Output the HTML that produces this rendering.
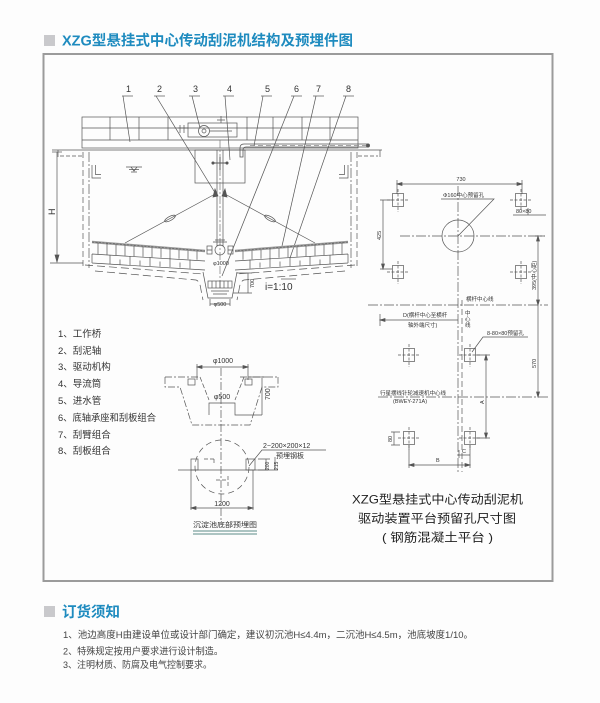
<!DOCTYPE html>
<html><head><meta charset="utf-8">
<style>
html,body{margin:0;padding:0;background:#fff;}
svg{display:block;}
text{font-family:"Liberation Sans","Noto Sans CJK SC",sans-serif;}
</style></head>
<body>
<svg width="600" height="703" viewBox="0 0 600 703" xmlns="http://www.w3.org/2000/svg">
<rect width="600" height="703" fill="#fdfdfd"/>

<!-- Title -->
<rect x="44" y="35" width="11" height="11" fill="#c9c9cc"/>
<text x="62" y="45.5" font-size="14.5" font-weight="bold" fill="#1e8bbf" textLength="291" lengthAdjust="spacingAndGlyphs">XZG型悬挂式中心传动刮泥机结构及预埋件图</text>

<!-- Frame -->
<rect x="43.5" y="54" width="509" height="527" fill="none" stroke="#9b9b9b" stroke-width="2"/>

<g stroke="#555" stroke-width="0.7" fill="none">
<!-- ===== Main drawing ===== -->
<!-- leader labels -->
<g stroke="#555">
<line x1="122" y1="96" x2="133" y2="96"/><line x1="123" y1="96" x2="130" y2="142"/>
<line x1="154" y1="96" x2="165" y2="96"/><line x1="156" y1="96" x2="217" y2="196"/>
<line x1="189" y1="96" x2="200" y2="96"/><line x1="192" y1="96" x2="200" y2="128"/>
<line x1="223" y1="96" x2="234" y2="96"/><line x1="225" y1="96" x2="230" y2="160"/>
<line x1="261" y1="96" x2="272" y2="96"/><line x1="263" y1="96" x2="254" y2="146"/>
<line x1="291" y1="96" x2="302" y2="96"/><line x1="294" y1="96" x2="222" y2="276"/>
<line x1="313" y1="96" x2="324" y2="96"/><line x1="316" y1="96" x2="282" y2="246"/>
<line x1="343" y1="96" x2="354" y2="96"/><line x1="346" y1="96" x2="290" y2="258"/>
</g>

<!-- bridge -->
<rect x="82" y="117" width="276" height="31"/>
<line x1="82" y1="128" x2="358" y2="128"/>
<line x1="82" y1="140" x2="358" y2="140"/>
<path d="M110,117V140M139,117V140M168,117V140M247,117V140M273,117V140M302,117V140M330,117V140"/>
<!-- tank top -->
<line x1="52" y1="150" x2="382" y2="150"/>
<line x1="380" y1="150" x2="380" y2="157"/>
<line x1="58" y1="150" x2="58" y2="157"/>
<path d="M60,156H82" stroke-dasharray="4,2"/>
<path d="M358,156H378" stroke-dasharray="4,2"/>

<!-- drive mechanism -->
<rect x="188" y="123" width="49" height="14"/>
<circle cx="204" cy="131" r="5.5"/>
<circle cx="204" cy="131" r="2"/>
<path d="M178,128H188M180,125V133M184,125V133"/>
<path d="M221,116V123M217,120H225"/>
<path d="M210,131H232"/>

<!-- inlet pipe -->
<path d="M368,144H244Q240,144 240,148V157H243V150Q243,147 246,147H368Z" stroke-width="0.8"/>
<path d="M250,145.5H366" stroke-dasharray="5,3" stroke="#888"/>
<circle cx="368" cy="145.5" r="1.6" fill="#555"/>

<!-- guide cylinder -->
<rect x="195" y="150" width="50" height="33"/>
<!-- shaft -->
<path d="M217,150V246M223,150V246"/>
<path d="M220,140V290" stroke-dasharray="8,2,2,2" stroke="#777"/>
<path d="M212,163H228M220,157V170" stroke-width="0.9"/>
<circle cx="213" cy="163" r="1.2" fill="#555"/><circle cx="227" cy="163" r="1.2" fill="#555"/>

<!-- H dim -->
<path d="M57,152V262"/>
<path d="M52,152H62"/>
<path d="M57,262L55,255H59Z" fill="#555"/>
<path d="M50,263H83"/>

<!-- water level symbol -->
<path d="M126,167H142M129,169.5H139M131,172H137"/>
<path d="M131,167L134,171L137,167"/>

<!-- left half (mirrored for right) -->
<g id="half">
<path d="M83,152V268" stroke-dasharray="6,3"/>
<path d="M89,152V268" stroke-dasharray="10,2,2,2"/>
<path d="M92,165V178H101M95.5,165V174.5H101"/>
<line x1="217" y1="193" x2="125" y2="243"/>
<ellipse cx="170" cy="218.5" rx="6" ry="2" transform="rotate(-28.5 170 218.5)"/>
<path d="M215,189L213,197L218,196Z" fill="#555"/>
<line x1="92" y1="242" x2="205" y2="251" stroke="#999" stroke-width="2.6"/>
<line x1="92" y1="242" x2="205" y2="251" stroke="#555" stroke-width="0.6" stroke-dasharray="2,1.5"/>
<path d="M98,242.5V254.3M107,243.3V254.8M116,244.1V255.3M125,244.9V255.8M134,245.7V256.3M143,246.5V256.8M152,247.3V257.2M161,248.1V257.7M170,248.9V258.2M179,249.7V258.7M188,250.5V259.2M197,251.3V259.7"/>
<path d="M92,254L205,261M92,263L205,270M92,254V263"/>
<path d="M110,255V264M130,256V265M150,257V266M170,258V267M190,259.5V268.5M120,259.5V264.6M140,260.5V265.6M160,261.5V266.6M180,262.5V267.6"/>
<path d="M85,265L203,274" stroke-dasharray="8,4"/>
<path d="M95,271L196,280Q200,281 201,290L203,300" stroke-dasharray="8,4"/>
</g>
<use href="#half" transform="translate(440,0) scale(-1,1)"/>

<!-- center bearing -->
<path d="M213,242H227M215,240H225"/>
<circle cx="220" cy="250" r="5"/>
<rect x="207" y="246" width="5" height="8"/>
<rect x="228" y="246" width="5" height="8"/>
<path d="M212,250H207M233,250H228"/>

<!-- sump -->
<path d="M203,272L208,298H232L237,272"/>
<rect x="208" y="281" width="24" height="7"/>
<path d="M212,281V288M216,281V288M220,281V288M224,281V288M228,281V288"/>
<path d="M211,291H229M213,294H227"/>
<!-- phi500 dim -->
<path d="M210,299V306M230,299V306M210,304H230"/>
<!-- 700 dim -->
<path d="M237,273H252M233,293H252M248,273V293"/>
<!-- i=1:10 overline -->
<path d="M281,279H296"/>

<!-- ===== Right plan drawing ===== -->
<!-- center lines -->
<path d="M458,186V472" stroke-dasharray="10,2,2,2"/>
<path d="M462,300V472" stroke-dasharray="6,3"/>
<path d="M400,236H545" stroke-dasharray="10,2,2,2"/>
<path d="M368,305H548" stroke-dasharray="10,2,2,2"/>
<path d="M378,397H548" stroke-dasharray="10,2,2,2"/>
<!-- squares top group -->
<g id="sq">
<rect x="392.5" y="193.5" width="11" height="13"/>
<path d="M387,200H409M398,189V212" stroke-dasharray="3,1.5"/>
</g>
<use href="#sq" transform="translate(123,0)"/>
<use href="#sq" transform="translate(0,72)"/>
<use href="#sq" transform="translate(123,72)"/>
<use href="#sq" transform="translate(11,155)"/>
<use href="#sq" transform="translate(72,155)"/>
<use href="#sq" transform="translate(11,238)"/>
<use href="#sq" transform="translate(72,238)"/>
<!-- circle -->
<circle cx="458" cy="236" r="16"/>
<!-- 730 dim -->
<path d="M397,184H522M397,180V194M522,180V194"/>
<path d="M397,184l5,-1.5v3zM522,184l-5,-1.5v3z" fill="#555"/>
<!-- phi160 leader -->
<path d="M441,199H494L458,236"/>
<!-- 80x80 -->
<path d="M513,215H546M528,208V215"/>
<!-- 425 -->
<path d="M383,200V269M380,200H392M380,269H392"/>
<path d="M383,269l-1.5,-5h3z" fill="#555"/>
<!-- 395 -->
<path d="M538,236V305M535,236H545"/>
<path d="M538,305l-1.5,-5h3zM538,236l-1.5,5h3z" fill="#555"/>
<!-- D -->
<path d="M380,320H458M380,314V326"/>
<path d="M380,320l5,-1.5v3z" fill="#555"/>
<!-- 8-80x80 leader -->
<path d="M528,337H483L472,352"/>
<!-- 570 -->
<path d="M538,305V397"/>
<path d="M538,397l-1.5,-5h3z" fill="#555"/>
<!-- A -->
<path d="M486,355V438M476,355H490M476,438H490"/>
<path d="M486,355l-1.5,5h3zM486,438l-1.5,-5h3z" fill="#555"/>
<!-- 80 small -->
<path d="M394,432V445M391,432H400M391,445H400"/>
<!-- C and B -->
<path d="M459,450V458M459,455H470"/>
<path d="M409,445V468M470,445V468M409,465H470"/>
<path d="M409,465l5,-1.5v3zM470,465l-5,-1.5v3z" fill="#555"/>

<!-- ===== Bottom sump embedded detail ===== -->
<path d="M197,364V380M248,364V380M197,367H248"/>
<path d="M197,367l5,-1.5v3zM248,367l-5,-1.5v3z" fill="#555"/>
<path d="M165,377H200M240,377H278M165,377V387H180L192,425H250L262,387H278V377" stroke-dasharray="7,2,2,2"/>
<path d="M200,377L209,400M244,377L235,400" stroke-dasharray="5,2"/>
<path d="M209,415V403H235V415H262"/>
<path d="M248,377H266M262,378V415"/>
<rect x="188" y="379" width="7" height="6"/>
<rect x="245" y="379" width="7" height="6"/>
<path d="M221,368V520" stroke-dasharray="8,2,2,2"/>
<circle cx="222" cy="467" r="27" stroke-dasharray="6,4"/>
<path d="M204,459H214M214,459V464M228,476V488M216,480H226" stroke-dasharray="4,2"/>
<path d="M178,470H268"/>
<rect x="191" y="459" width="7" height="11"/>
<rect x="246" y="459" width="9" height="11"/>
<path d="M191,470V510M253,470V510M191,508H253"/>
<path d="M191,508l5,-1.5v3zM253,508l-5,-1.5v3z" fill="#555"/>
<path d="M326,450H262L249,466"/>
<path d="M258,459H270M258,470H278M266,459V470M275,457V470"/>
</g>

<!-- caption underline -->
<path d="M193,531H257M193,534H257" stroke="#5c8a86" stroke-width="0.9"/>

<!-- ===== Texts ===== -->
<g fill="#333" font-size="9">
<text x="126" y="92">1</text><text x="157" y="92">2</text><text x="193" y="92">3</text><text x="227" y="92">4</text>
<text x="265" y="92">5</text><text x="294" y="92">6</text><text x="316" y="92">7</text><text x="346" y="92">8</text>
</g>
<text x="0" y="0" font-size="9" fill="#333" transform="translate(55,215) rotate(-90)">H</text>
<text x="221" y="265" font-size="5.5" fill="#333" text-anchor="middle">φ1000</text>
<text x="220" y="306" font-size="5.5" fill="#333" text-anchor="middle">φ500</text>
<text x="0" y="0" font-size="5.5" fill="#333" transform="translate(254,288) rotate(-90)">700</text>
<text x="265" y="290" font-size="10" fill="#333">i=1:10</text>

<!-- legend -->
<g fill="#333" font-size="9.5">
<text x="58" y="337">1、工作桥</text>
<text x="58" y="354">2、刮泥轴</text>
<text x="58" y="370">3、驱动机构</text>
<text x="58" y="387">4、导流筒</text>
<text x="58" y="404">5、进水管</text>
<text x="58" y="421" textLength="98" lengthAdjust="spacingAndGlyphs">6、底轴承座和刮板组合</text>
<text x="58" y="438">7、刮臂组合</text>
<text x="58" y="454">8、刮板组合</text>
</g>

<!-- right plan texts -->
<g fill="#333" font-size="5.5">
<text x="461" y="181" text-anchor="middle">730</text>
<text x="443" y="197">Φ160中心预留孔</text>
<text x="516" y="213">80×80</text>
<text x="0" y="0" transform="translate(381,240) rotate(-90)">425</text>
<text x="0" y="0" transform="translate(536,290) rotate(-90)">395(中心距)</text>
<text x="466" y="301">横杆中心线</text>
<text x="403" y="317">D(横杆中心至横杆</text>
<text x="408" y="327">轴外端尺寸)</text>
<text x="465" y="315">中</text><text x="465" y="321">心</text><text x="465" y="327">线</text>
<text x="487" y="335">8-80×80预留孔</text>
<text x="0" y="0" transform="translate(536,368) rotate(-90)">570</text>
<text x="380" y="395">行星摆线针轮减速机中心线</text>
<text x="393" y="403">(BWEY-271A)</text>
<text x="0" y="0" transform="translate(484,404) rotate(-90)">A</text>
<text x="0" y="0" transform="translate(392,442) rotate(-90)">80</text>
<text x="462" y="453">C</text>
<text x="436" y="462">B</text>
</g>

<!-- sump detail texts -->
<g fill="#333" font-size="7">
<text x="223" y="363" text-anchor="middle">φ1000</text>
<text x="222" y="399" text-anchor="middle">φ500</text>
<text x="0" y="0" transform="translate(270,400) rotate(-90)">700</text>
<text x="263" y="448">2−200×200×12</text>
<text x="276" y="458">预埋钢板</text>
<text x="0" y="0" font-size="5" transform="translate(269,470) rotate(-90)">200</text>
<text x="0" y="0" font-size="5" transform="translate(278,470) rotate(-90)">215</text>
<text x="222" y="506" text-anchor="middle">1200</text>
<text x="225" y="527" text-anchor="middle" textLength="64" lengthAdjust="spacingAndGlyphs">沉淀池底部预埋图</text>
</g>

<!-- right block title -->
<g fill="#222" font-size="12" text-anchor="middle">
<text x="437.5" y="503.5" textLength="171" lengthAdjust="spacingAndGlyphs">XZG型悬挂式中心传动刮泥机</text>
<text x="437" y="522.5" textLength="158" lengthAdjust="spacingAndGlyphs">驱动装置平台预留孔尺寸图</text>
<text x="437.5" y="541.5" textLength="111" lengthAdjust="spacingAndGlyphs">( 钢筋混凝土平台 )</text>
</g>

<!-- Order notes -->
<rect x="44" y="606" width="11" height="11" fill="#c9c9cc"/>
<text x="62" y="617" font-size="14.5" font-weight="bold" fill="#1e8bbf" textLength="58" lengthAdjust="spacingAndGlyphs">订货须知</text>
<g fill="#444" font-size="9.5">
<text x="63" y="638" textLength="410" lengthAdjust="spacingAndGlyphs">1、池边高度H由建设单位或设计部门确定，建议初沉池H≤4.4m，二沉池H≤4.5m，池底坡度1/10。</text>
<text x="63" y="654.5" textLength="160" lengthAdjust="spacingAndGlyphs">2、特殊规定按用户要求进行设计制造。</text>
<text x="63" y="668" textLength="149" lengthAdjust="spacingAndGlyphs">3、注明材质、防腐及电气控制要求。</text>
</g>
</svg>
</body></html>
